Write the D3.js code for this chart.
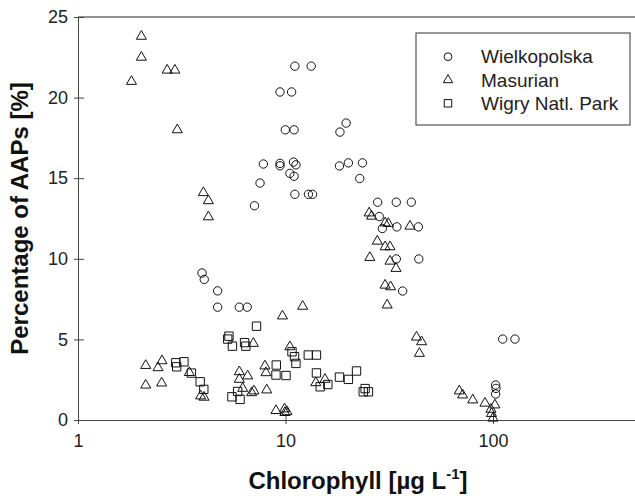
<!DOCTYPE html>
<html>
<head>
<meta charset="utf-8">
<script src="https://cdn.jsdelivr.net/npm/d3@7"></script>
<style>
  html, body { margin: 0; padding: 0; background: #fff; }
  svg { display: block; font-family: "Liberation Sans", Arial, sans-serif; }
</style>
</head>
<body>
<svg id="chart" width="635" height="499"></svg>
<script>
// ---- Data ----
const wielkopolskaX = [11.1, 13.3, 9.41, 10.7, 9.98, 11.0, 7.82, 9.41, 9.41, 10.93, 11.23, 10.5, 11.0, 7.54, 11.1, 12.9, 13.5, 7.09,
  18.3, 19.6, 18.2, 20.1, 23.5, 22.8, 27.8, 34.2, 40.4, 28.3, 29.3, 34.4, 43.7, 34.2, 43.9, 36.7,
  111.4, 127.6, 103.0, 103.4, 103.0, 3.96, 4.06, 4.71, 4.71, 5.99, 6.54];
const wielkopolskaY = [21.95, 21.95, 20.35, 20.35, 18.0, 18.0, 15.88, 15.92, 15.77, 16.0, 15.83, 15.3, 15.12, 14.7, 14.0, 14.0, 14.0, 13.29,
  17.86, 18.42, 15.76, 15.95, 15.95, 14.98, 13.51, 13.51, 13.51, 12.62, 11.88, 11.98, 11.98, 9.99, 9.99, 8.0,
  5.02, 5.02, 2.17, 1.96, 1.61, 9.12, 8.72, 8.01, 7.0, 7.0, 7.0];

const masurianX = [2.02, 2.02, 2.69, 2.93, 1.81, 3.01, 4.02, 4.25, 4.25, 12.1, 9.67,
  2.12, 2.43, 2.54, 2.12, 2.53, 3.44, 3.90, 4.05, 5.99, 6.57, 5.99, 6.22, 6.87, 7.05, 8.12, 7.96, 8.05, 7.0, 10.5,
  9.0, 9.89, 9.94, 10.17, 14.0, 15.5, 25.3, 26.0, 30.2, 31.3, 39.8, 27.7, 30.2, 31.9, 25.5, 31.9, 34.1, 30.2, 32.1, 30.9,
  42.8, 45.3, 44.2, 68.8, 71.4, 79.9, 91.5, 102.2, 98.4, 100, 97.8];
const masurianY = [23.8, 22.5, 21.7, 21.7, 21.0, 18.0, 14.1, 13.6, 12.6, 7.05, 6.45,
  3.38, 3.24, 3.67, 2.16, 2.29, 2.94, 1.49, 1.41, 2.99, 2.73, 2.52, 1.96, 1.69, 1.80, 1.86, 3.35, 2.93, 4.75, 4.54,
  0.58, 0.68, 0.46, 0.51, 2.31, 2.52, 12.84, 12.64, 12.22, 12.19, 12.02, 11.09, 10.74, 10.74, 10.08, 9.85, 9.40, 8.36, 8.26, 7.13,
  5.14, 4.85, 4.13, 1.80, 1.55, 1.24, 1.04, 0.93, 0.40, 0.11, 0.66];

const wigryX = [2.96, 2.99, 3.24, 3.52, 3.88, 4.04, 5.27, 5.34, 5.55, 6.35, 6.44, 7.25, 5.52, 5.88, 6.04,
  9.03, 9.0, 10.06, 10.75, 11.05, 11.23, 12.88, 14.1, 14.1, 14.7, 16.0, 18.2, 20.1, 22.0, 23.7, 25.1, 24.2];
const wigryY = [3.55, 3.30, 3.61, 2.91, 2.37, 1.90, 5.02, 5.20, 4.58, 4.80, 4.58, 5.82, 1.44, 1.77, 1.28,
  3.41, 2.79, 2.76, 4.23, 3.93, 3.51, 4.03, 4.03, 2.92, 2.06, 2.20, 2.66, 2.52, 3.04, 1.75, 1.75, 1.95];

const seriesNames = ["Wielkopolska", "Masurian", "Wigry Natl. Park"];
const xTicks = [1, 10, 100];
const yTicks = [0, 5, 10, 15, 20, 25];

(function () {
  // ---- Layout ----
  const svg = d3.select("#chart");
  const mLeft = 78, mRight = 638, mTop = 17, mBottom = 420;

  const x = d3.scaleLog().domain([1, 500]).range([mLeft, mRight]);
  const y = d3.scaleLinear().domain([0, 25]).range([mBottom, mTop]);

  const axisColor = "#444";

  // top frame line
  svg.append("line")
    .attr("x1", mLeft).attr("x2", mRight)
    .attr("y1", y(25)).attr("y2", y(25))
    .attr("stroke", "#222").attr("stroke-width", 1);

  // x axis
  const gx = svg.append("g").attr("transform", `translate(0,${mBottom})`)
    .call(d3.axisBottom(x).tickValues(xTicks).tickFormat(d3.format("d")).tickSizeInner(4).tickSizeOuter(0).tickPadding(10));
  gx.select(".domain").attr("stroke", axisColor);
  gx.selectAll(".tick line").attr("stroke", axisColor).attr("y1", -6);
  gx.selectAll(".tick text").attr("font-size", 18).attr("fill", "#222").attr("font-family", "Liberation Sans, Arial, sans-serif");

  // y axis
  const gy = svg.append("g").attr("transform", `translate(${mLeft},0)`)
    .call(d3.axisLeft(y).tickValues(yTicks).tickSizeInner(4).tickSizeOuter(0).tickPadding(6));
  gy.select(".domain").attr("stroke", axisColor);
  gy.selectAll(".tick line").attr("stroke", axisColor).attr("x1", 6);
  gy.selectAll(".tick text").attr("font-size", 18).attr("fill", "#222").attr("font-family", "Liberation Sans, Arial, sans-serif");

  // axis titles
  svg.append("text")
    .attr("transform", `translate(28,${(mTop + mBottom) / 2}) rotate(-90)`)
    .attr("text-anchor", "middle")
    .attr("font-size", 24).attr("font-weight", "bold").attr("fill", "#111")
    .text("Percentage of AAPs [%]");

  const xt = svg.append("text")
    .attr("x", 358).attr("y", 489)
    .attr("text-anchor", "middle")
    .attr("font-size", 24).attr("font-weight", "bold").attr("fill", "#111");
  xt.append("tspan").text("Chlorophyll [µg L");
  xt.append("tspan").attr("font-size", 15).attr("dy", -10).text("-1");
  xt.append("tspan").attr("dy", 10).text("]");

  // markers
  const symCircle = d3.symbol().type(d3.symbolCircle).size(55);
  const symTri = d3.symbol().type(d3.symbolTriangle).size(44);
  const symSq = d3.symbol().type(d3.symbolSquare).size(70);

  function drawSeries(xs, ys, sym) {
    svg.append("g").selectAll("path")
      .data(xs.map((v, i) => [v, ys[i]]))
      .join("path")
      .attr("transform", d => `translate(${x(d[0])},${y(d[1])})`)
      .attr("d", sym())
      .attr("fill", "none")
      .attr("stroke", "#111")
      .attr("stroke-width", 1);
  }
  drawSeries(wielkopolskaX, wielkopolskaY, symCircle);
  drawSeries(masurianX, masurianY, symTri);
  drawSeries(wigryX, wigryY, symSq);

  // legend
  const lg = svg.append("g");
  lg.append("rect").attr("x", 416).attr("y", 33).attr("width", 214).attr("height", 92)
    .attr("fill", "white").attr("stroke", "#333").attr("stroke-width", 1);
  const legendSyms = [d3.symbol().type(d3.symbolCircle).size(48), d3.symbol().type(d3.symbolTriangle).size(38), d3.symbol().type(d3.symbolSquare).size(56)];
  seriesNames.forEach((name, i) => {
    const cy = 56.7 + i * 23.3;
    lg.append("path").attr("transform", `translate(448,${cy})`).attr("d", legendSyms[i]())
      .attr("fill", "none").attr("stroke", "#111").attr("stroke-width", 1);
    lg.append("text").attr("x", 481).attr("y", cy).attr("dy", "0.35em")
      .attr("font-size", 19).attr("fill", "#222").text(name);
  });
})();
</script>
</body>
</html>
